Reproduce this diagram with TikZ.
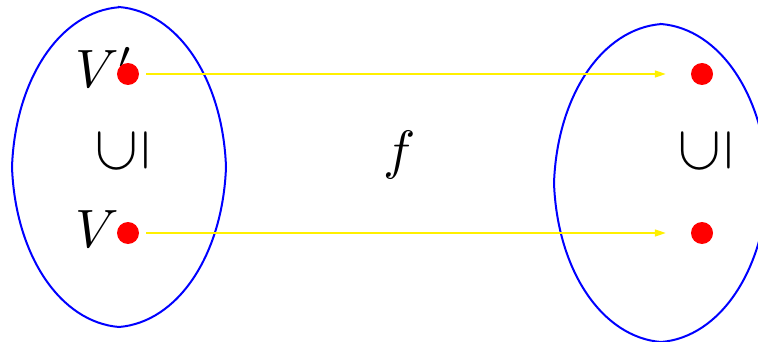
\documentclass[tikz,border=0pt]{standalone}
\usepackage{graphicx}
\usetikzlibrary{arrows.meta}
\definecolor{arrowyellow}{RGB}{255,240,0}
\begin{document}
\begin{tikzpicture}[x=1pt,y=-1pt,
  blobline/.style={draw=blue,line width=2pt},
  blob/.pic={\draw[blobline] (0,-1) .. controls (0.55,-0.97) and (0.97,-0.55) .. (1,0)
     .. controls (0.97,0.55) and (0.55,0.97) .. (0,1)
     .. controls (-0.55,0.97) and (-0.97,0.55) .. (-1,0)
     .. controls (-0.97,-0.55) and (-0.55,-0.97) .. cycle;},
  dot/.style={circle,fill=red,minimum size=22pt,inner sep=0pt},
  lab/.style={inner sep=0pt,scale=5.4,anchor=base west},
  sub/.style={inner sep=0pt,scale=6.3},
  arr/.style={draw=arrowyellow,line width=1.5pt,
     -{Triangle[length=11pt,width=7pt]},shorten <=7pt,shorten >=25pt}]
\clip (0,0) rectangle (758,342);
\pic[xscale=107,yscale=160] at (119,167) {blob};
\pic[xscale=107,yscale=159] at (661,183) {blob};
\node[lab] (vp) at (74,88) {$V'$};
\node[lab] (v) at (74,247) {$V$};
\node[sub] (s1) at (123,151) {\rotatebox{90}{$\subseteq$}};
\node[sub] (s2) at (706,151) {\rotatebox{90}{$\subseteq$}};
\node[lab,anchor=base] (f) at (400,168) {$f$};
\node[dot] (a1) at (128,74) {};
\node[dot] (a2) at (128,233) {};
\node[dot] (b1) at (702,74) {};
\node[dot] (b2) at (702,233) {};
\draw[arr] (a1) -- (b1);
\draw[arr] (a2) -- (b2);
\end{tikzpicture}
\end{document}
